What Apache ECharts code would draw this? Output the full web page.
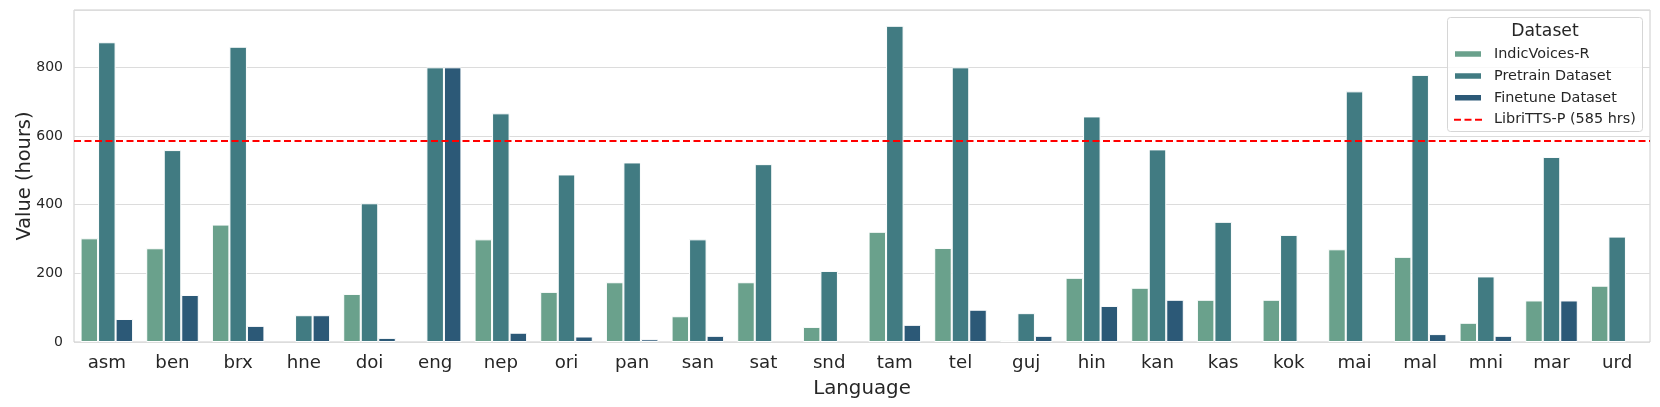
<!DOCTYPE html>
<html>
<head>
<meta charset="utf-8">
<script src="https://cdn.jsdelivr.net/npm/echarts@6/dist/echarts.min.js"></script>
<style>html,body{margin:0;padding:0;background:#fff}#c{width:1660px;height:407px}</style>
</head>
<body>
<div id="c"></div>
<script>
const categories = ['asm','ben','brx','hne','doi','eng','nep','ori','pan','san','sat','snd','tam','tel','guj','hin','kan','kas','kok','mai','mal','mni','mar','urd'];
const indicVoices = [302,273,342,0,140,0,299,146,174,75,174,44,321,274,6,187,158,123,123,270,248,56,121,164];
const pretrain    = [873,559,860,78,404,800,666,488,523,299,518,207,921,800,84,657,561,350,312,730,778,191,539,307];
const finetune    = [67,137,47,78,12,800,27,16,8,18,0,0,50,94,18,105,123,0,0,0,23,18,121,0];
const libriValue = 585;
const yTicks = [0,200,400,600,800];

const FONT = 'DejaVu Sans';
const TXT = '#262626';
const chart = echarts.init(document.getElementById('c'), null, {renderer:'canvas'});
const barStyle = c => ({color:c, borderColor:'#ffffff', borderWidth:1});
// zero-height bars are not drawn (avoid a white edge line on the baseline)
const noZero = arr => arr.map(v => v === 0 ? '-' : v);
chart.setOption({
  animation:false,
  backgroundColor:'#ffffff',
  textStyle:{fontFamily:FONT},
  grid:{left:74, right:10, top:10, bottom:65, show:true, borderColor:'#cccccc', borderWidth:1},
  graphic:[
    {type:'rect', left:1447, top:17, z:100, shape:{width:195, height:114, r:3},
     style:{fill:'rgba(255,255,255,0.8)', stroke:'#d6d6d6', lineWidth:1}},
    {type:'text', x:1545, y:32, z:101,
     style:{text:'Dataset', fontFamily:FONT, fontSize:17.2, fill:TXT, align:'center', verticalAlign:'middle'}}
  ],
  legend:{
    orient:'vertical', left:1448, top:42, itemWidth:28, itemHeight:7.5, itemGap:7.9,
    z:102,
    textStyle:{fontFamily:FONT, fontSize:14.4, color:TXT, padding:[0,0,0,7]},
    data:[
      {name:'IndicVoices-R', icon:'rect'},
      {name:'Pretrain Dataset', icon:'rect'},
      {name:'Finetune Dataset', icon:'rect'},
      {name:'LibriTTS-P (585 hrs)', icon:'path://M0,0h7v2h-7z M10.5,0h7v2h-7z M21,0h7v2h-7z', itemStyle:{color:'#ff0000'}}
    ]
  },
  xAxis:{
    type:'category', data:categories,
    name:'Language', nameLocation:'middle', nameGap:37, nameMoveOverlap:false,
    nameTextStyle:{fontFamily:FONT, fontSize:19.8, color:TXT},
    axisLine:{show:false}, axisTick:{show:false},
    axisLabel:{fontFamily:FONT, fontSize:18.2, color:TXT, margin:12},
    splitLine:{show:false}
  },
  yAxis:{
    type:'value', min:0, max:967, interval:200,
    name:'Value (hours)', nameLocation:'middle', nameGap:40, nameMoveOverlap:false,
    nameTextStyle:{fontFamily:FONT, fontSize:19.4, color:TXT},
    axisLine:{show:false}, axisTick:{show:false},
    axisLabel:{fontFamily:FONT, fontSize:14, color:TXT, margin:11,
      formatter:v => yTicks.includes(v) ? String(v) : ''},
    splitLine:{show:true, lineStyle:{color:'#dcdcdc', width:1.2}}
  },
  series:[
    {name:'IndicVoices-R', type:'bar', data:noZero(indicVoices), barCategoryGap:'20%', barGap:'0%', itemStyle:barStyle('#6aa18c')},
    {name:'Pretrain Dataset', type:'bar', data:noZero(pretrain), barCategoryGap:'20%', barGap:'0%', itemStyle:barStyle('#417b82')},
    {name:'Finetune Dataset', type:'bar', data:noZero(finetune), barCategoryGap:'20%', barGap:'0%', itemStyle:barStyle('#2c5977')},
    {name:'LibriTTS-P (585 hrs)', type:'line', data:[], itemStyle:{color:'#ff0000'},
     markLine:{silent:true, symbol:'none', label:{show:false}, z:50,
       lineStyle:{color:'#ff0000', type:[7,3.5], width:2},
       data:[{yAxis:libriValue}]}}
  ]
});
</script>
</body>
</html>
